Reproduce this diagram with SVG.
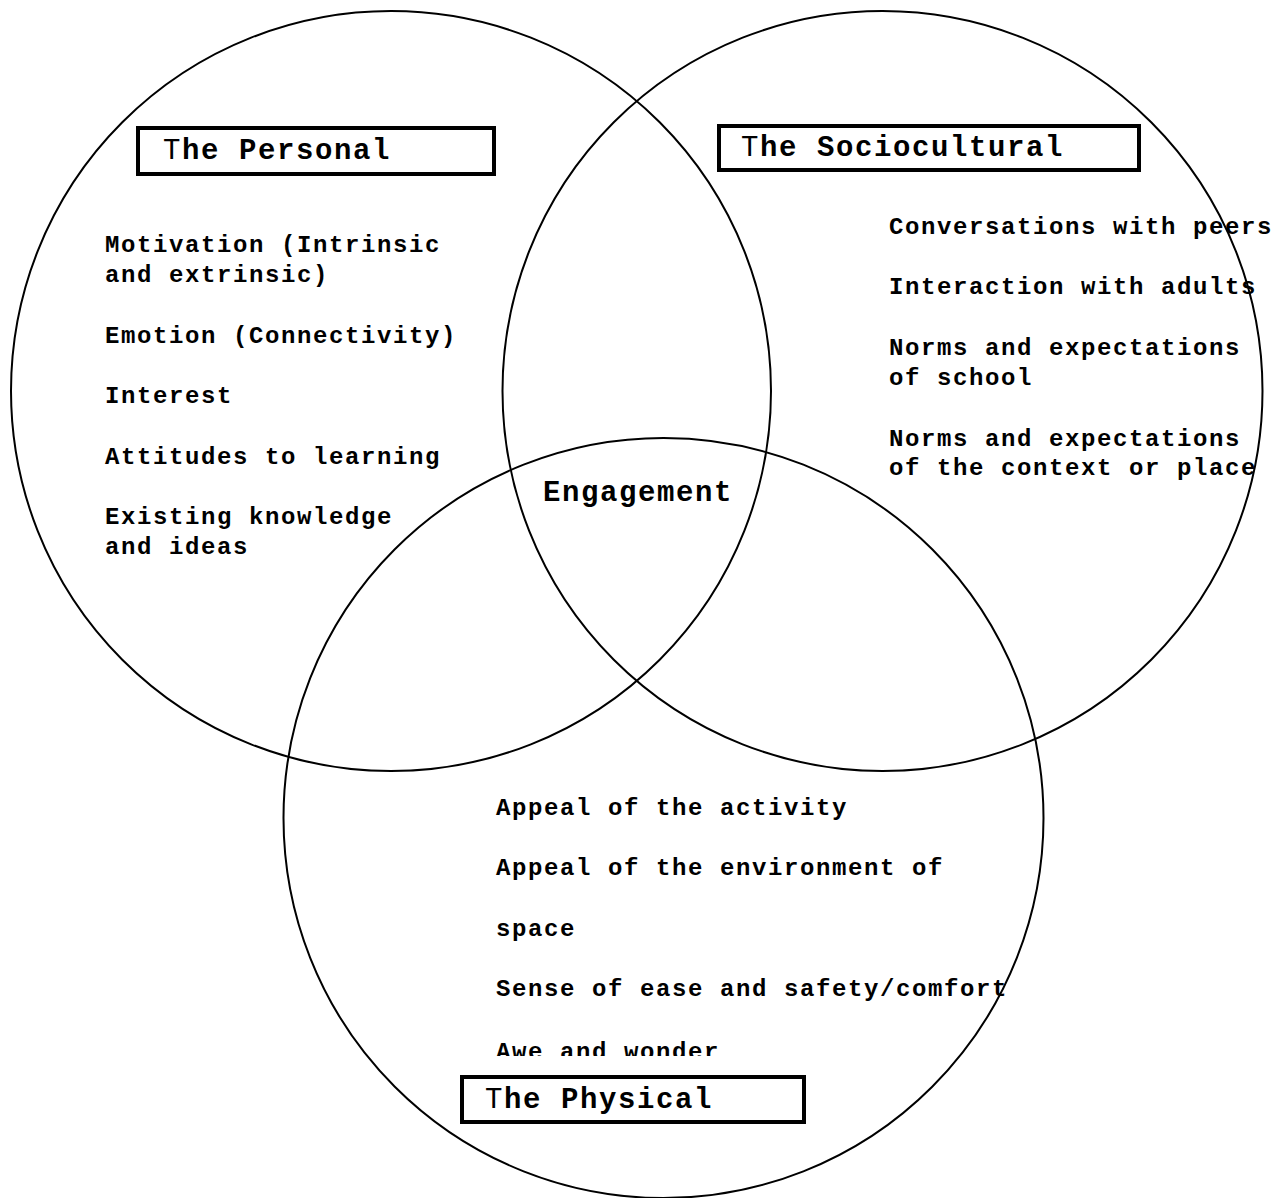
<svg xmlns="http://www.w3.org/2000/svg" width="1283" height="1198" viewBox="0 0 1283 1198">
<style>
.c{fill:none;stroke:#000;stroke-width:2}
.b{fill:#fff;stroke:#000;stroke-width:4}
.t{font-family:"Liberation Mono","Courier New",monospace;font-weight:bold;font-size:24px;letter-spacing:1.6px;fill:#000}
.h{font-family:"Liberation Mono","Courier New",monospace;font-weight:bold;font-size:29px;letter-spacing:1.6px;fill:#000}
.h .r{font-weight:normal}
</style>
<defs>
<clipPath id="clipPhys"><rect x="480" y="780" width="560" height="276"/></clipPath>
</defs>
<rect width="1283" height="1198" fill="#fff"/>
<g id="connectors"></g>
<g id="personal-circle"><circle class="c" cx="391" cy="391" r="380"/></g>
<g id="sociocultural-circle"><circle class="c" cx="882.5" cy="391" r="380"/></g>
<g id="physical-circle"><circle class="c" cx="663.5" cy="818" r="380"/></g>
<g id="personal-label">
<rect class="b" x="138" y="128" width="356" height="46"/>
<text class="h" x="163" y="159"><tspan class="r">T</tspan>he Personal</text>
</g>
<g id="sociocultural-label">
<rect class="b" x="719" y="126" width="420" height="44"/>
<text class="h" x="741" y="156"><tspan class="r">T</tspan>he Sociocultural</text>
</g>
<g id="physical-label">
<rect class="b" x="462" y="1077" width="342" height="45"/>
<text class="h" x="485" y="1108"><tspan class="r">T</tspan>he Physical</text>
</g>
<g id="engagement"><text class="h" x="543" y="501">Engagement</text></g>
<g id="personal-items">
<text class="t" x="105" y="252">Motivation (Intrinsic</text>
<text class="t" x="105" y="282">and extrinsic)</text>
<text class="t" x="105" y="343">Emotion (Connectivity)</text>
<text class="t" x="105" y="403">Interest</text>
<text class="t" x="105" y="464">Attitudes to learning</text>
<text class="t" x="105" y="524">Existing knowledge</text>
<text class="t" x="105" y="554">and ideas</text>
</g>
<g id="sociocultural-items">
<text class="t" x="889" y="234">Conversations with peers</text>
<text class="t" x="889" y="294">Interaction with adults</text>
<text class="t" x="889" y="355">Norms and expectations</text>
<text class="t" x="889" y="385">of school</text>
<text class="t" x="889" y="446">Norms and expectations</text>
<text class="t" x="889" y="475">of the context or place</text>
</g>
<g id="physical-items" clip-path="url(#clipPhys)">
<text class="t" x="496" y="815">Appeal of the activity</text>
<text class="t" x="496" y="875">Appeal of the environment of</text>
<text class="t" x="496" y="936">space</text>
<text class="t" x="496" y="996">Sense of ease and safety/comfort</text>
<text class="t" x="496" y="1059">Awe and wonder</text>
</g>
</svg>
